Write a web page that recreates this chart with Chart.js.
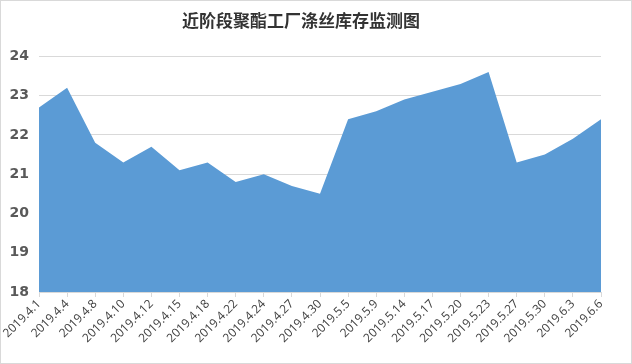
<!DOCTYPE html>
<html>
<head>
<meta charset="utf-8">
<script src="https://cdn.jsdelivr.net/npm/chart.js@4"></script>
<style>
  html, body { margin: 0; padding: 0; background: #fff; }
  #wrap { width: 632px; height: 364px; box-sizing: border-box; border: 1px solid #d9d9d9; }
</style>
</head>
<body>
<div id="wrap"><canvas id="stockChart" width="630" height="362"></canvas></div>
<script>
const dates = ['2019.4.1', '2019.4.4', '2019.4.8', '2019.4.10', '2019.4.12', '2019.4.15', '2019.4.18',
  '2019.4.22', '2019.4.24', '2019.4.27', '2019.4.30', '2019.5.5', '2019.5.9', '2019.5.14', '2019.5.17',
  '2019.5.20', '2019.5.23', '2019.5.27', '2019.5.30', '2019.6.3', '2019.6.6'];
const stockDays = [22.7, 23.2, 21.8, 21.3, 21.7, 21.1, 21.3, 20.8, 21.0, 20.7, 20.5, 22.4, 22.6, 22.9,
  23.1, 23.3, 23.6, 21.3, 21.5, 21.9, 22.4];
const yTicks = [18, 19, 20, 21, 22, 23, 24];

const ctx = document.getElementById('stockChart').getContext('2d');

new Chart(ctx, {
  type: 'line',
  data: {
    labels: dates,
    datasets: [{
      data: stockDays,
      fill: 'start',
      backgroundColor: '#5b9bd5',
      borderWidth: 0,
      pointRadius: 0,
      tension: 0
    }]
  },
  options: {
    responsive: false,
    animation: false,
    layout: { padding: { right: 30, left: 0, top: 0, bottom: 0 } },
    plugins: {
      legend: { display: false },
      tooltip: { enabled: false },
      title: {
        display: true,
        text: '近阶段聚酯工厂涤丝库存监测图',
        color: '#333333',
        font: { family: '"Noto Sans CJK SC"', size: 17, weight: 'bold' },
        padding: { top: 9, bottom: 26 }
      }
    },
    scales: {
      x: {
        offset: false,
        grid: { drawOnChartArea: false, drawTicks: true, tickLength: 5, color: '#d9d9d9' },
        border: { color: '#d9d9d9' },
        ticks: {
          autoSkip: false,
          minRotation: 45,
          maxRotation: 45,
          color: '#404040',
          padding: 0,
          font: { family: '"Open Sans"', size: 12 }
        },
        afterFit: axis => { axis.height = 71; }
      },
      y: {
        min: 18,
        max: 24,
        afterBuildTicks: axis => { axis.ticks = yTicks.map(v => ({ value: v })); },
        grid: { color: '#d9d9d9', drawTicks: false },
        border: { display: false },
        ticks: {
          color: '#595959',
          padding: 10,
          font: { family: '"DejaVu Sans"', size: 14, weight: 'bold' }
        },
        afterFit: axis => { axis.width = 38; }
      }
    }
  }
});
</script>
</body>
</html>
